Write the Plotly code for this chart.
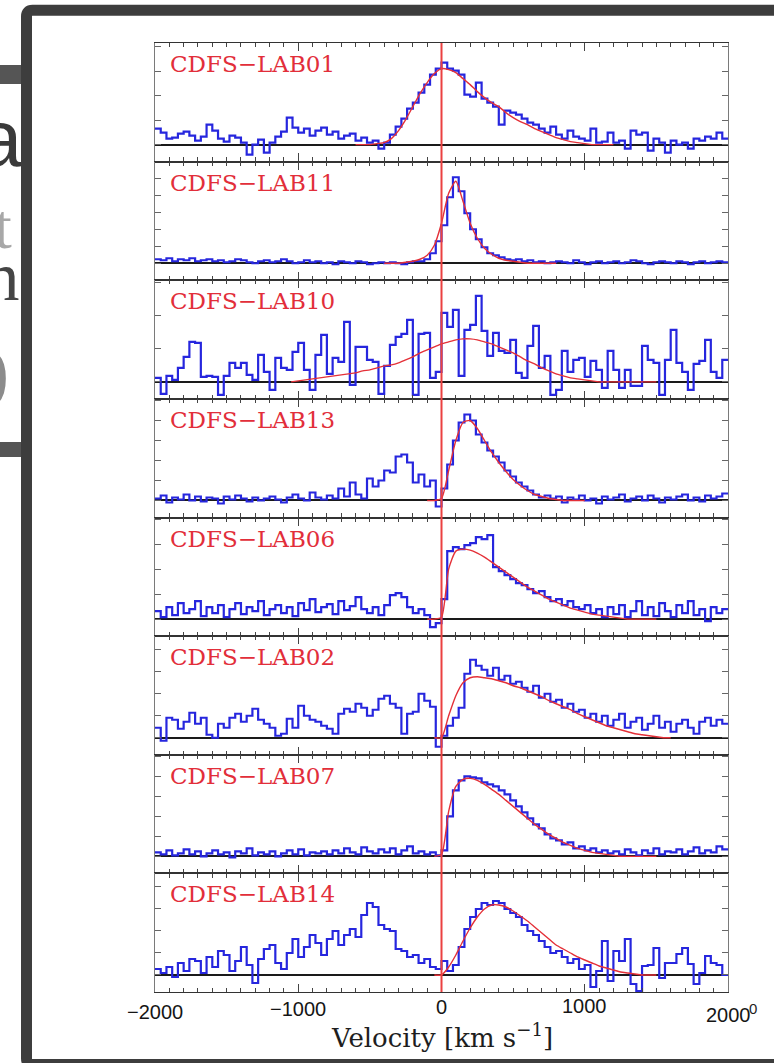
import plotly.graph_objects as go

W, H = 774, 1063

# ---------------------------------------------------------------------------
# Binned Lya spectra (40 km/s bins, -2000 .. 2000 km/s), flux in arbitrary
# units above the continuum, and the fitted line profiles (50 km/s samples).
# ---------------------------------------------------------------------------
VEL_LO, VEL_HI = -2000, 2000
BIN_WIDTH = 40
FIT_STEP = 50

LABELS = ["CDFS\u2212LAB01", "CDFS\u2212LAB11", "CDFS\u2212LAB10", "CDFS\u2212LAB13",
          "CDFS\u2212LAB06", "CDFS\u2212LAB02", "CDFS\u2212LAB07", "CDFS\u2212LAB14"]

LAB01_FLUX = [16, 12, 6, 7, 11, 13, 9, 4, 8, 20,
              14, 6, 3, 9, 7, 2, -10, 0, 5, -8,
              2, 8, 13, 27, 17, 12, 16, 9, 14, 17,
              10, 13, 6, 9, 11, 4, 7, 2, 4, -4,
              2, 10, 18, 26, 36, 42, 52, 60, 70, 76,
              82, 76, 74, 70, 50, 48, 62, 46, 42, 38,
              20, 34, 32, 30, 26, 22, 20, 16, 12, 18,
              10, 6, 14, 8, 6, 4, 16, 2, 3, 12,
              2, 4, -4, 14, 10, 12, -6, 6, 2, -8,
              4, 0, 2, -4, 6, 4, 8, 6, 12, 6]
LAB11_FLUX = [4, 3, 5, 2, 4, 3, 5, 2, 3, 4,
              2, 3, 1, 2, 4, 3, 1, 0, 2, 3,
              1, 2, 4, 2, 0, 1, 3, 1, 2, 0,
              1, -1, 2, 1, 0, 2, 1, -1, 0, 1,
              0, 1, 0, -1, 1, 2, 2, 4, 10, 22,
              38, 66, 86, 72, 50, 34, 24, 16, 10, 8,
              6, 4, 3, 4, 2, 3, 1, 2, 0, 1,
              2, 1, 0, 3, 1, -1, 1, 2, 0, 1,
              2, 0, 1, 3, 2, 0, -1, 1, 2, 1,
              0, 2, 1, -1, 1, 2, 0, 1, 2, 1]
LAB10_FLUX = [4, -12, 6, 2, 14, 25, 40, 39, 5, 6,
              5, -13, 6, 19, 14, 19, 7, 2, 27, 10,
              -8, 24, 14, 12, 30, 39, 12, -8, 27, 47,
              8, 24, 20, 60, -3, 35, 35, 22, 20, -12,
              16, 37, 45, 48, 62, -13, 48, 49, 4, 10,
              69, 55, 72, 6, 52, 57, 86, 51, 26, 49,
              31, 29, 42, 9, 4, 36, 56, 14, 26, -13,
              -8, 31, 10, 22, 24, 5, 21, 12, -6, 31,
              12, -6, 12, -4, -4, 36, 22, 19, -13, 22,
              52, 19, 10, -8, 18, 21, 42, 10, 4, 22]
LAB13_FLUX = [2, 5, -2, 3, 1, 6, 0, 4, -1, 3,
              2, -3, 4, 1, 5, 2, -1, 3, 0, 2,
              4, 1, -2, 3, 6, 2, 0, 8, 3, 1,
              5, 2, 12, 4, 18, 6, 2, 22, 14, 20,
              30, 28, 44, 46, 38, 18, 26, 14, 20, -6,
              12, 36, 60, 78, 86, 80, 66, 58, 50, 44,
              38, 30, 24, 18, 14, 10, 6, 3, 5, 2,
              4, -2, 3, 1, 5, 0, 2, -3, 4, 1,
              3, 6, -1, 2, 4, 0, 5, 2, -2, 3,
              1, 4, 6, 0, 3, -1, 5, 2, 4, 7]
LAB06_FLUX = [8, 2, 12, 4, 16, 6, 10, 18, 3, 12,
              6, 14, 2, 10, 16, 5, 12, 8, 18, 4,
              10, 14, 6, 12, 3, 16, 9, 20, 7, 12,
              15, 5, 18, 9, 13, 22, 10, 6, 12, 4,
              14, 24, 26, 22, 12, 6, 10, 4, -8, -4,
              20, 68, 72, 70, 74, 76, 82, 80, 84, 52,
              48, 44, 40, 36, 34, 30, 26, 28, 22, 18,
              20, 14, 18, 12, 10, 14, 6, 10, 2, 12,
              5, 14, 2, 8, 18, 4, 12, 3, 16, 8,
              2, 14, 6, 18, 4, 10, -2, 12, 6, 10]
LAB02_FLUX = [10, -3, 20, 18, 9, 16, 25, 14, 20, 3,
              0, 14, 10, 20, 24, 16, 22, 29, 18, 14,
              10, 2, 4, 19, 10, 32, 22, 18, 16, 12,
              9, 4, 24, 29, 26, 34, 30, 22, 28, 39,
              42, 34, 30, 4, 24, 26, 44, 37, 31, -9,
              2, 12, 20, 30, 64, 78, 72, 68, 62, 70,
              58, 62, 54, 56, 50, 46, 52, 40, 44, 36,
              38, 30, 34, 26, 28, 20, 24, 16, 22, 12,
              18, 24, 10, 16, 20, 8, 14, 22, 10, 16,
              6, 14, 18, 10, 4, 16, 20, 12, 18, 14]
LAB07_FLUX = [4, 2, 6, 1, 3, 7, 2, 5, 0, 3,
              6, 2, 4, -1, 5, 3, 8, 1, 4, 2,
              5, 0, 3, 6, 2, 7, 1, 4, 3, 5,
              2, 6, 3, 8, 4, 2, 9, 5, 3, 7,
              4, 8, 2, 6, 10, 3, 5, 2, 4, 1,
              6, 40, 66, 76, 80, 79, 78, 74, 72, 70,
              66, 62, 56, 50, 44, 38, 32, 28, 22, 18,
              16, 12, 14, 8, 10, 6, 8, 4, 6, 3,
              5, 2, 7, 4, 1, 6, 3, 8, 2, 5,
              4, 7, 2, 5, 9, 3, 6, 4, 10, 7]
LAB14_FLUX = [6, 2, 8, -2, 12, 4, 16, 14, 2, 18,
              8, 24, 20, 4, 14, 28, 10, -8, 16, 26,
              30, 12, 6, 22, 36, 18, 28, 40, 32, 20,
              36, 44, 30, 40, 46, 38, 60, 72, 68, 50,
              46, 44, 26, 24, 18, 20, 12, 16, 8, 6,
              14, 4, 10, 28, 46, 58, 66, 72, 70, 74,
              72, 66, 62, 58, 50, 44, 40, 34, 28, 22,
              24, 18, 12, 16, 6, 10, -12, 4, 34, -6,
              24, 14, 36, -9, -16, 9, 10, 27, -3, 12,
              12, 21, 27, 11, -9, 2, 19, 12, 10, 0]

# fitted profiles: first velocity of each fit and its samples
FIT_V0 = [-600, -400, -1050, -100, -100, -50, -50, -50]
LAB01_FIT = [0, 0, 0, 1, 2, 6, 14, 25, 38, 51, 62, 71, 76, 75, 72, 66, 60, 53, 47,
             42, 38, 32, 27, 23, 20, 16, 13, 10, 7, 5, 3, 2, 1, 0, 0, 0, 0]
LAB11_FIT = [0, 0, 0, 1, 2, 4, 8, 18, 40, 70, 82, 62, 40, 25, 15, 9, 5, 3, 2, 1,
             0, 0, 0, 0, 0]
LAB10_FIT = [0, 1, 2, 3, 4, 5, 6, 7, 8, 9, 11, 12, 14, 16, 17, 19, 22, 25, 29, 32,
             35, 38, 40, 42, 43, 43, 42, 40, 38, 35, 32, 29, 25, 21, 18, 14, 11, 8,
             6, 4, 3, 2, 1, 0, 0, 0, 0, 0, 0, 0, 0, 0]
LAB13_FIT = [0, 0, 2, 30, 60, 78, 80, 72, 60, 48, 38, 29, 21, 15, 10, 6, 4, 2, 1,
             0, 0, 0, 0]
LAB06_FIT = [0, 0, 2, 50, 68, 70, 69, 66, 62, 57, 52, 47, 42, 37, 32, 28, 24, 20,
             17, 14, 11, 9, 7, 5, 4, 3, 2, 1, 0, 0, 0, 0, 0]
LAB02_FIT = [0, 0, 22, 42, 55, 60, 61, 60, 59, 57, 55, 52, 50, 47, 44, 41, 37, 34,
             31, 28, 24, 21, 18, 15, 12, 10, 8, 6, 4, 3, 2, 1, 0, 0]
LAB07_FIT = [0, 2, 45, 70, 77, 78, 76, 72, 67, 62, 56, 50, 44, 38, 32, 27, 22, 18,
             14, 11, 8, 6, 4, 3, 2, 1, 0, 0, 0, 0, 0, 0]
LAB14_FIT = [0, 0, 8, 20, 34, 47, 58, 66, 70, 70, 68, 64, 59, 54, 48, 42, 36, 30,
             26, 22, 18, 15, 12, 9, 7, 5, 3, 2, 1, 0, 0, 0]

X_TICKS = [-2000, -1000, 0, 1000, 2000]
X_TICK_TEXT = ["\u22122000", "\u22121000", "0", "1000", "2000"]

FLUXES = [LAB01_FLUX, LAB11_FLUX, LAB10_FLUX, LAB13_FLUX,
          LAB06_FLUX, LAB02_FLUX, LAB07_FLUX, LAB14_FLUX]
FITS = [LAB01_FIT, LAB11_FIT, LAB10_FIT, LAB13_FIT,
        LAB06_FIT, LAB02_FIT, LAB07_FIT, LAB14_FIT]

# per-panel flux scale (spacing of the unlabeled y ticks)
Y_TICK_STEP = [24.5, 17, 33, 20, 25, 22, 20, 22]
Y_RANGE = [-17, 101.6]

# ---------------------------------------------------------------------------
# layout helpers (pixel -> paper)
# ---------------------------------------------------------------------------
def fx(px):
    return px / W


def fy(py):
    return 1 - py / H


PLOT_L, PLOT_R, PLOT_T, PLOT_B = 155, 728, 43, 992
N = len(FLUXES)
PANEL_H = (PLOT_B - PLOT_T) / N
# vertical centres (px) of the velocity tick labels, which sit slightly unevenly
TICK_LABEL_PY = [1012, 1009, 1007, 1006, 1015]

BLUE = "rgb(38,38,222)"
RED = "rgb(228,48,56)"

fig = go.Figure()
layout = {}

for k in range(N):
    sfx = "" if k == 0 else str(k + 1)
    xref, yref = "x" + sfx, "y" + sfx
    top_px = PLOT_T + k * PANEL_H
    bot_px = top_px + PANEL_H

    flux = FLUXES[k]
    edges = [VEL_LO + BIN_WIDTH * i for i in range(len(flux) + 1)]
    fig.add_trace(go.Scatter(
        x=edges, y=flux + [flux[-1]], mode="lines", line_shape="hv",
        line=dict(color=BLUE, width=2.2), xaxis=xref, yaxis=yref,
        hoverinfo="skip"))

    fit = FITS[k]
    fit_v = [FIT_V0[k] + FIT_STEP * i for i in range(len(fit))]
    fig.add_trace(go.Scatter(
        x=fit_v, y=fit, mode="lines", line_shape="spline",
        line=dict(color=RED, width=1.4, smoothing=0.6), xaxis=xref, yaxis=yref,
        hoverinfo="skip"))

    layout["xaxis" + sfx] = dict(
        domain=[fx(PLOT_L), fx(PLOT_R)], anchor=yref, range=[VEL_LO, VEL_HI],
        showline=True, linecolor="#333333", linewidth=1.4, mirror="allticks",
        ticks="inside", ticklen=8, tickwidth=1.2, tickcolor="#444",
        tickmode="array", tickvals=X_TICKS,
        minor=dict(dtick=100, tick0=0, ticks="inside", ticklen=4, tickwidth=1,
                   tickcolor="#444"),
        showgrid=False, zeroline=False, showticklabels=False, automargin=False,
        fixedrange=True)
    layout["yaxis" + sfx] = dict(
        domain=[fy(bot_px), fy(top_px)], anchor=xref, range=Y_RANGE,
        showline=True, linecolor="#7a7a7a", linewidth=1.3, mirror="allticks",
        ticks="inside", ticklen=6, tickwidth=1.1, tickcolor="#666",
        tick0=0, dtick=Y_TICK_STEP[k], showticklabels=False, showgrid=False,
        zeroline=True, zerolinecolor="#1a1a1a", zerolinewidth=1.6,
        automargin=False, fixedrange=True)

    fig.add_annotation(
        x=fx(168), y=fy(top_px + 21), xref="paper", yref="paper",
        xanchor="left", yanchor="middle", showarrow=False, text=LABELS[k],
        font=dict(family="DejaVu Serif", size=23, color="rgb(226,46,58)"))

# velocity tick labels under the bottom panel, placed on the x8 scale
for v, txt, py in zip(X_TICKS, X_TICK_TEXT, TICK_LABEL_PY):
    fig.add_annotation(
        x=v, y=fy(py), xref="x8", yref="paper", xanchor="center",
        yanchor="middle", showarrow=False, text=txt,
        font=dict(family="Liberation Sans", size=20, color="#151515"))

# fragments of slide text peeking out at the left edge (clipped by an axis)
STRIP_TEXT = ["a", "t", "n", ")"]
fig.add_trace(go.Scatter(
    x=[0, 3, 2, -3], y=[146, 232, 282, 378], mode="text", text=STRIP_TEXT,
    textposition="middle center", cliponaxis=True,
    textfont=dict(family=["Liberation Sans", "Liberation Serif",
                          "Liberation Serif", "Liberation Serif"],
                  size=[80, 64, 70, 72],
                  color=["#3a3a3a", "#a8a8a8", "#454545", "#8c8c8c"]),
    xaxis="x9", yaxis="y9", hoverinfo="skip"))
layout["xaxis9"] = dict(domain=[0, fx(21)], anchor="y9", range=[0, 21],
                        visible=False, fixedrange=True, automargin=False)
layout["yaxis9"] = dict(domain=[0, 1], anchor="x9", range=[H, 0],
                        visible=False, fixedrange=True, automargin=False)

# x-axis title and the stray superscript beside the last tick label
fig.add_annotation(
    x=fx(442), y=fy(1036), xref="paper", yref="paper", showarrow=False,
    xanchor="center", yanchor="middle",
    text="Velocity [km s<sup>\u22121</sup>]",
    font=dict(family="DejaVu Serif", size=26, color="#1e1e1e"))
fig.add_annotation(
    x=fx(753), y=fy(1008), xref="paper", yref="paper", showarrow=False,
    xanchor="center", yanchor="middle",
    text="0", font=dict(family="Liberation Sans", size=15, color="#1e1e1e"))

shapes = []
# zero-velocity marker through all panels
shapes.append(dict(type="line", xref="x8", yref="paper", x0=0, x1=0,
                   y0=fy(PLOT_B), y1=fy(PLOT_T),
                   line=dict(color="rgb(235,64,64)", width=2), layer="above"))
# grey bars of the slide behind the frame
for y0, y1 in [(65, 84), (442, 457)]:
    shapes.append(dict(type="rect", xref="paper", yref="paper",
                       x0=fx(0), x1=fx(21), y0=fy(y1), y1=fy(y0),
                       line=dict(width=0), fillcolor="#555555", layer="above"))
# dark rounded frame around the figure
fr_x, fr_t, fr_b, r = 26.5, 10.3, 1064.5, 6
path = (f"M {fx(800)},{fy(fr_b)} L {fx(fr_x + r)},{fy(fr_b)} "
        f"Q {fx(fr_x)},{fy(fr_b)} {fx(fr_x)},{fy(fr_b - r)} "
        f"L {fx(fr_x)},{fy(fr_t + r)} "
        f"Q {fx(fr_x)},{fy(fr_t)} {fx(fr_x + r)},{fy(fr_t)} "
        f"L {fx(800)},{fy(fr_t)}")
shapes.append(dict(type="path", xref="paper", yref="paper", path=path,
                   line=dict(color="#3d3d3d", width=11), layer="above"))

fig.update_layout(
    width=W, height=H,
    margin=dict(l=0, r=0, t=0, b=0, pad=0, autoexpand=False),
    paper_bgcolor="white", plot_bgcolor="white", showlegend=False,
    shapes=shapes, **layout)

fig.write_html("out.html")
